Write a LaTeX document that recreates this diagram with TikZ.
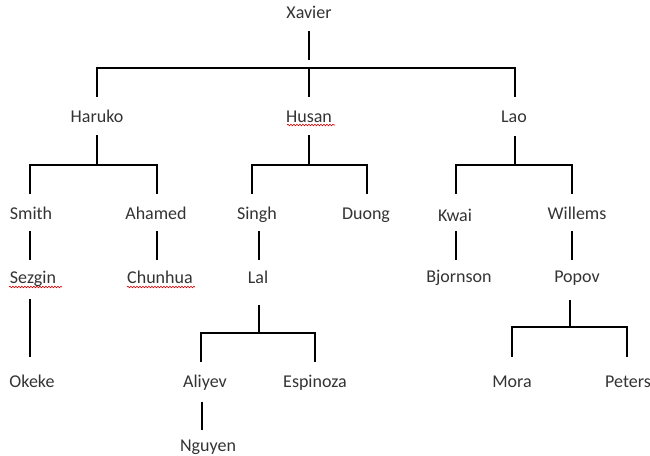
\documentclass[tikz,border=0pt]{standalone}
\usepackage{fontspec}
\setmainfont{Carlito}
\usetikzlibrary{decorations.pathmorphing}
\begin{document}
\begin{tikzpicture}[x=1pt,y=-1pt,
  lbl/.style={inner sep=0pt, anchor=base, text=black!80, font=\fontsize{18}{20}\selectfont},
  conn/.style={line width=1.8pt, line join=miter},
  spell/.style={draw=red!85!black, line width=0.6pt, decorate, decoration={snake, amplitude=0.8pt, segment length=3pt}}]
\useasboundingbox (0,0) rectangle (650,455);
% labels
\node[lbl] (X) at (309,18.5) {Xavier};
\node[lbl] (Ha) at (97,122) {Haruko};
\node[lbl] (Hu) at (309,122) {Husan};
\node[lbl] (La) at (514,122) {Lao};
\node[lbl] (Sm) at (31,219) {Smith};
\node[lbl] (Ah) at (156,219) {Ahamed};
\node[lbl] (Si) at (257,219) {Singh};
\node[lbl] (Du) at (366,219) {Duong};
\node[lbl] (Kw) at (455,221) {Kwai};
\node[lbl] (Wi) at (577,219) {Willems};
\node[lbl] (Se) at (33,283) {Sezgin};
\node[lbl] (Ch) at (160,283) {Chunhua};
\node[lbl] (Ll) at (258,283) {Lal};
\node[lbl] (Bj) at (459,282) {Bjornson};
\node[lbl] (Po) at (577,282) {Popov};
\node[lbl] (Ok) at (32,387) {Okeke};
\node[lbl] (Al) at (205,387) {Aliyev};
\node[lbl] (Es) at (315,387) {Espinoza};
\node[lbl] (Ng) at (208,451) {Nguyen};
\node[lbl] (Mo) at (512,387) {Mora};
\node[lbl] (Pe) at (628,387) {Peters};
% spell-check marks
\draw[spell] (287,125) -- (335,125);
\draw[spell] (9,287) -- (62,287);
\draw[spell] (127,287) -- (195,287);
% junction coordinates
\coordinate (x1) at (309,31); \coordinate (x2) at (309,60);
\coordinate (b1) at (97,68); \coordinate (b2) at (309,68); \coordinate (b3) at (515,68);
\coordinate (ha1) at (97,135); \coordinate (ha2) at (97,165);
\coordinate (hu1) at (309,135); \coordinate (hu2) at (309,165);
\coordinate (la1) at (515,136); \coordinate (la2) at (515,165);
\coordinate (ll1) at (259,305); \coordinate (ll2) at (259,333);
\coordinate (po1) at (570,300); \coordinate (po2) at (570,328);
% connectors
\draw[conn] (x1) -- (x2);
\draw[conn] (97,97) -- (b1) -- (b3) -- (515,97);
\draw[conn] (b2) -- (309,97);
\draw[conn] (ha1) -- (ha2);
\draw[conn] (30,194) -- (30,165) -- (157,165) -- (157,194);
\draw[conn] (hu1) -- (hu2);
\draw[conn] (252,194) -- (252,165) -- (367,165) -- (367,194);
\draw[conn] (la1) -- (la2);
\draw[conn] (456,194) -- (456,165) -- (572,165) -- (572,194);
\draw[conn] (30,231) -- (30,260);
\draw[conn] (157,231) -- (157,260);
\draw[conn] (259,231) -- (259,260);
\draw[conn] (456,231) -- (456,260);
\draw[conn] (572,231) -- (572,260);
\draw[conn] (30,299) -- (30,357);
\draw[conn] (ll1) -- (ll2);
\draw[conn] (201,362) -- (201,333) -- (315,333) -- (315,362);
\draw[conn] (202,402) -- (202,430);
\draw[conn] (po1) -- (po2);
\draw[conn] (512,357) -- (512,327) -- (627,327) -- (627,357);
\end{tikzpicture}
\end{document}
